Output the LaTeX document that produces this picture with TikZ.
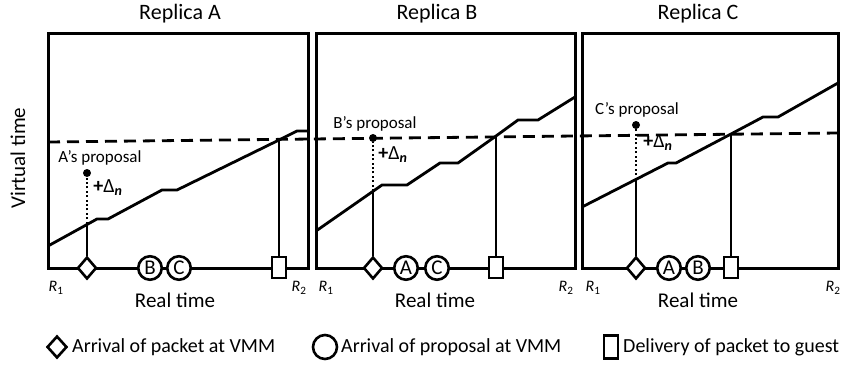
\documentclass[tikz,border=0pt]{standalone}
\usepackage{fontspec}
\setmainfont{Carlito}
\usetikzlibrary{shapes.geometric}
\begin{document}
\begin{tikzpicture}[x=1pt,y=-1pt,line join=miter,
  frame/.style={line width=3pt},
  curve/.style={line width=2.8pt},
  vline/.style={line width=2.8pt},
  dotline/.style={line width=2.8pt,dash pattern=on 2pt off 2.4pt},
  dashline/.style={line width=2.8pt,dash pattern=on 12pt off 7pt},
  dia/.style={diamond,draw,fill=white,line width=2.6pt,minimum width=19pt,minimum height=22pt,inner sep=0pt},
  prop/.style={circle,draw,fill=white,line width=2.6pt,minimum size=23.5pt,inner sep=0pt,font=\fontsize{21}{22}\selectfont},
  deliv/.style={rectangle,draw,fill=white,line width=2.8pt,minimum width=14pt,minimum height=21pt,inner sep=0pt},
  dot/.style={circle,fill=black,minimum size=8pt,inner sep=0pt},
  title/.style={font=\fontsize{22}{24}\selectfont},
  axlabel/.style={font=\fontsize{21}{24}\selectfont},
  small/.style={font=\fontsize{17}{20}\selectfont},
  rlab/.style={font=\fontsize{16}{18}\selectfont\itshape},
  delta/.style={font=\fontsize{20}{22}\selectfont,inner sep=0pt},
  leg/.style={font=\fontsize{20}{24}\selectfont,anchor=west,inner sep=0pt}]
\useasboundingbox (0,0) rectangle (842,365);

% titles
\node[title] (tA) at (180,14) {Replica A};
\node[title] (tB) at (437,14) {Replica B};
\node[title] (tC) at (698,14) {Replica C};
\node[axlabel,rotate=90] (vt) at (18,158) {Virtual time};

% dashed common line
\coordinate (dL) at (48,142);
\coordinate (dR) at (838,133);
\draw[dashline] (dL) -- (dR);

% ---------- Panel A ----------
\draw[frame] (48,33) rectangle (308,268);
\draw[curve] (48,246) -- (97,219) -- (108,219) -- (162,190) -- (177,190) -- (279,140) coordinate (cA) -- (297,131) -- (308,131);
\coordinate (xA) at (87,223.5);
\node[dia] (dA) at (87,268) {};
\node[prop] (pAB) at (150,268) {B};
\node[prop] (pAC) at (179,268) {C};
\node[deliv] (sA) at (279,267.5) {};
\node[dot] (oA) at (87,173) {};
\draw[vline] (dA.north) -- (xA);
\draw[dotline] (xA) -- (oA);
\draw[vline] (sA.north) -- (cA);
\node[small] (lA) at (100,158) {A’s proposal};
\node[delta] (eA) at (108,188) {{\bfseries+}Δ\textsubscript{\bfseries\itshape n}};
\node[rlab] (r1A) at (56,288) {R\textsubscript{\upshape 1}};
\node[rlab] (r2A) at (299,288) {R\textsubscript{\upshape 2}};
\node[axlabel] (rtA) at (175,300) {Real time};

% ---------- Panel B ----------
\draw[frame] (316,33) rectangle (575,268);
\draw[curve] (316,231) -- (382,185) -- (407,185) -- (440,163) -- (458,163) -- (496,136) coordinate (cB) -- (518,120) -- (538,120) -- (575,97);
\coordinate (xB) at (373,191);
\node[dia] (dB) at (373,268) {};
\node[prop] (pBA) at (406,268) {A};
\node[prop] (pBC) at (437,268) {C};
\node[deliv] (sB) at (496,267.5) {};
\node[dot] (oB) at (373,138) {};
\draw[vline] (dB.north) -- (xB);
\draw[dotline] (xB) -- (oB);
\draw[vline] (sB.north) -- (cB);
\node[small] (lB) at (375,124) {B’s proposal};
\node[delta] (eB) at (393,155) {{\bfseries+}Δ\textsubscript{\bfseries\itshape n}};
\node[rlab] (r1B) at (326,288) {R\textsubscript{\upshape 1}};
\node[rlab] (r2B) at (566,288) {R\textsubscript{\upshape 2}};
\node[axlabel] (rtB) at (435,300) {Real time};

% ---------- Panel C ----------
\draw[frame] (582,33) rectangle (838,268);
\draw[curve] (582,207) -- (668,163) -- (676,163) -- (731,134) coordinate (cC) -- (763,117) -- (778,117) -- (838,83);
\coordinate (xC) at (636,179.5);
\node[dia] (dC) at (636,268) {};
\node[prop] (pCA) at (669,268) {A};
\node[prop] (pCB) at (698,268) {B};
\node[deliv] (sC) at (731,267.5) {};
\node[dot] (oC) at (636,125) {};
\draw[vline] (dC.north) -- (xC);
\draw[dotline] (xC) -- (oC);
\draw[vline] (sC.north) -- (cC);
\node[small] (lC) at (637,110) {C’s proposal};
\node[delta] (eC) at (658,143) {{\bfseries+}Δ\textsubscript{\bfseries\itshape n}};
\node[rlab] (r1C) at (593,288) {R\textsubscript{\upshape 1}};
\node[rlab] (r2C) at (833,288) {R\textsubscript{\upshape 2}};
\node[axlabel] (rtC) at (698,300) {Real time};

% ---------- Legend ----------
\node[dia,minimum width=20pt,minimum height=22pt] (gD) at (57,347) {};
\node[leg] (gDt) at (72,347) {Arrival of packet at VMM};
\node[prop,minimum size=24pt] (gC) at (325,347) {};
\node[leg] (gCt) at (341,347) {Arrival of proposal at VMM};
\node[deliv,minimum height=23pt] (gS) at (611,347) {};
\node[leg] (gSt) at (623,347) {Delivery of packet to guest};
\end{tikzpicture}
\end{document}
